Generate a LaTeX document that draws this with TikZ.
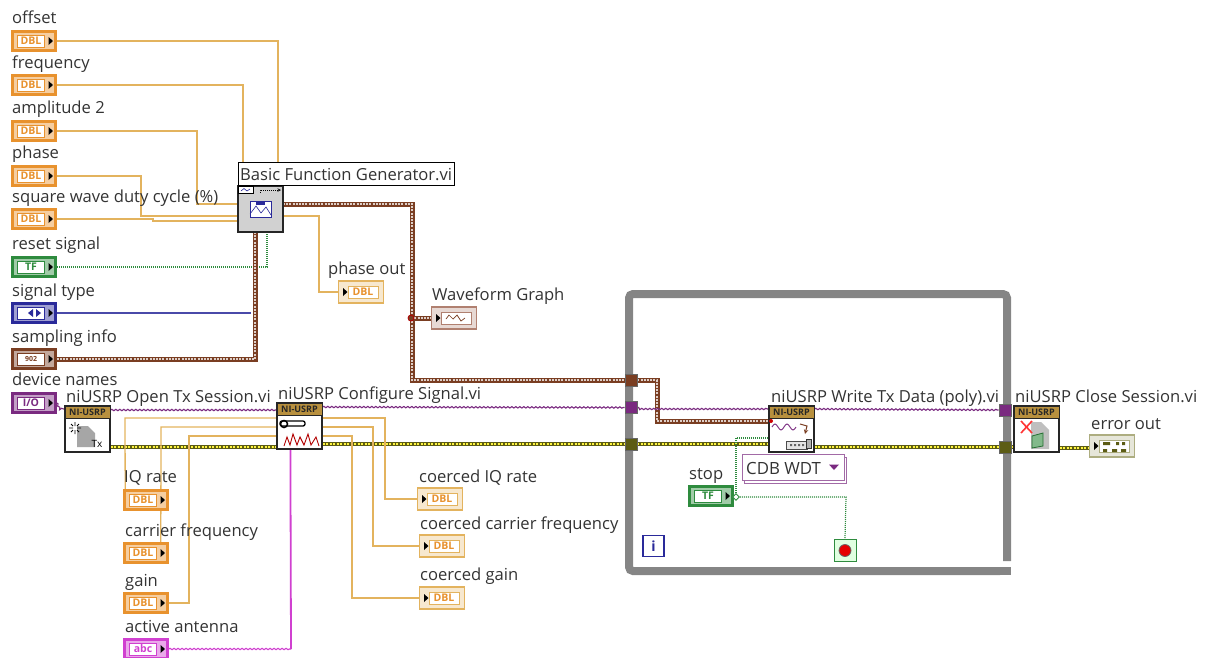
\documentclass[tikz,border=0pt]{standalone}
\usepackage{fontspec}
\setmainfont{Open Sans}
\usetikzlibrary{decorations.pathmorphing,calc,shapes.geometric}
\pgfdeclarelayer{wires}
\pgfsetlayers{wires,main}
\definecolor{dbl}{HTML}{E8922E}
\definecolor{dblw}{HTML}{E3B35E}
\definecolor{grn}{HTML}{2E8B3E}
\definecolor{blu}{HTML}{2A2A9A}
\definecolor{brn}{HTML}{7A3E22}
\definecolor{pur}{HTML}{7A2A80}
\definecolor{pnk}{HTML}{D040D0}
\definecolor{oliv}{HTML}{5C5C14}
\definecolor{gold}{HTML}{B8903E}
\definecolor{wfc}{HTML}{B08070}
\definecolor{errc}{HTML}{ADAD80}
\tikzset{
  lab/.style={anchor=base west,inner sep=0pt,text=black!80,font=\fontsize{16.6}{17}\selectfont},
  outerbox/.style={draw=#1,line width=2.6pt,fill=#1!45,minimum width=43pt,minimum height=19.5pt,inner sep=0pt},
  innerbox/.style={draw=#1,line width=.5pt,fill=white,minimum width=27pt,minimum height=12pt,inner sep=0pt},
  indbox/.style={draw=#1,line width=1.2pt,fill=#1!30,minimum width=45pt,minimum height=22pt,inner sep=0pt},
  typ/.style={text=#1,inner sep=0pt,font=\fontsize{10.5}{11}\bfseries\selectfont},
  numw/.style={draw=dblw,line width=1.3pt},
  clw/.style={preaction={draw=brn,line width=5pt},draw=brn!25,line width=2.2pt,dash pattern=on 2pt off 1.2pt},
  errw/.style={preaction={draw=oliv,line width=3.8pt},draw=yellow!75!white,line width=1.7pt,dash pattern=on 2pt off 1.5pt},
  boolw/.style={draw=grn,line width=1.2pt,dash pattern=on 1pt off 1pt},
  enumw/.style={draw=blu!85,line width=1.3pt},
  strw/.style={draw=pnk,line width=1.1pt,decorate,decoration={snake,amplitude=.7pt,segment length=4pt}},
  refw/.style={draw=pur,line width=1.1pt,decorate,decoration={snake,amplitude=.7pt,segment length=4pt}},
  pnkv/.style={draw=pnk,line width=1.8pt},
  vibox/.style={draw=black!85,line width=1.2pt,fill=white,minimum width=45pt,minimum height=46pt,inner sep=0pt},
  vihead/.style={draw=black!85,line width=.8pt,fill=gold,minimum width=45pt,minimum height=12pt,inner sep=0pt,text=black!85,font=\fontsize{9}{9}\bfseries\selectfont},
  tun/.style={draw=black!60,line width=.6pt,fill=#1,minimum size=12pt,inner sep=0pt},
  lbltag/.style={draw=black,line width=.9pt,fill=white,anchor=north west,minimum width=216pt,minimum height=23pt,inner sep=0pt}
}
\newcommand{\ctl}[5]{% name, x, y-top, colour, text
  \node[outerbox=#4] (#1) at (#2+23,#3+11) {};
  \node[innerbox=#4,typ=#4] (#1-in) at (#2+20,#3+11) {#5};
  \fill[black] (#2+37.5,#3+7) -- (#2+42,#3+11) -- (#2+37.5,#3+15) -- cycle;
}
\newcommand{\ndc}[5]{% name, x, y-top, colour, text
  \node[indbox=#4] (#1) at (#2+23,#3+11) {};
  \node[innerbox=#4,minimum width=30pt,typ=#4] (#1-in) at (#2+25,#3+11) {#5};
  \fill[black] (#2+5,#3+7) -- (#2+9.5,#3+11) -- (#2+5,#3+15) -- cycle;
}
\newcommand{\vi}[3]{% name, x, y-top
  \node[vibox] (#1) at (#2+22.5,#3+23) {};
  \node[vihead] (#1-h) at (#2+22.5,#3+6) {NI-USRP};
}
\begin{document}
\begin{tikzpicture}[x=1pt,y=-1pt]
\useasboundingbox (0,0) rectangle (1211,657);
% controls
\node[lab] (l1) at (12,23) {offset};
\ctl{offset}{11}{30}{dbl}{DBL}
\node[lab] (l2) at (12,68) {frequency};
\ctl{freq}{11}{74}{dbl}{DBL}
\node[lab] (l3) at (12,113) {amplitude 2};
\ctl{ampl}{11}{120}{dbl}{DBL}
\node[lab] (l4) at (12,158) {phase};
\ctl{phase}{11}{165}{dbl}{DBL}
\node[lab] (l5) at (12,202) {square wave duty cycle (\%)};
\ctl{square}{11}{208}{dbl}{DBL}
\node[lab] (l6) at (12,249) {reset signal};
\ctl{reset}{11}{256}{grn}{TF}
\node[lab] (l7) at (12,296) {signal type};
\ctl{stype}{11}{302}{blu}{}
\fill[blu] (33,309) -- (28,313) -- (33,317) -- cycle (36,309) -- (41,313) -- (36,317) -- cycle;
\node[lab] (l8) at (12,342) {sampling info};
\ctl{samp}{11}{348}{brn}{\fontsize{7}{8}\selectfont 902}
\node[lab] (l9) at (12,385) {device names};
\ctl{dev}{11}{392}{pur}{I/O}
\node[lab] (l10) at (124,482) {IQ rate};
\ctl{iq}{123}{489}{dbl}{DBL}
\node[lab] (l11) at (125,536) {carrier frequency};
\ctl{carr}{123}{542}{dbl}{DBL}
\node[lab] (l12) at (125,586) {gain};
\ctl{gain}{123}{592}{dbl}{DBL}
\node[lab] (l13) at (125,632) {active antenna};
\ctl{ant}{123}{638}{pnk}{abc}
\node[lab] (l14) at (689,479) {stop};
\ctl{stop}{688}{485}{grn}{TF}
% indicators
\node[lab] (l15) at (328,274) {phase out};
\ndc{pout}{338}{281}{dblw}{\textcolor{dbl}{DBL}}
\node[lab] (l16) at (432,300) {Waveform Graph};
\ndc{wf}{431}{307}{wfc}{}
\draw[brn,line width=.7pt] (446,319) -- (449,315) -- (453,319) -- (457,315) -- (461,321) -- (465,318);
\node[lab] (l17) at (419,482) {coerced IQ rate};
\ndc{oiq}{417}{488}{dblw}{\textcolor{dbl}{DBL}}
\node[lab] (l18) at (420,529) {coerced carrier frequency};
\ndc{ocarr}{419}{535}{dblw}{\textcolor{dbl}{DBL}}
\node[lab] (l19) at (420,580) {coerced gain};
\ndc{ogain}{419}{587}{dblw}{\textcolor{dbl}{DBL}}
\node[lab] (l20) at (1091,429) {error out};
\ndc{err}{1089}{435}{errc}{}
\fill[oliv] (1103,442) rectangle (1110,445) (1116,442) rectangle (1119,445) (1122,442) rectangle (1125,445) (1103,449) rectangle (1107,452) (1112,449) rectangle (1117,452) (1121,449) rectangle (1126,452);
% Basic Function Generator
\node[draw=black!85,line width=1.2pt,fill=black!18,minimum width=45pt,minimum height=46pt,inner sep=0pt] (bfg) at (260.5,209) {};
\node[lbltag] (bfgt) at (238,162) {};
\node[lab] (l21) at (240,180) {Basic Function Generator.vi};
\draw[fill=white,line width=.5pt] (238.5,186.5) rectangle (253,193.5);
\draw[blu,line width=.6pt] (241,191) -- (244,188.5) -- (247,191) -- (250,189);
\draw[black,line width=.6pt,dash pattern=on 1pt off 1pt,->,>=stealth] (260,193) -- (260,190) -- (281,190);
\draw[blu,line width=1pt,fill=white] (250,201) rectangle (271,217);
\fill[blu] (256,201) rectangle (265,205);
\draw[blu,line width=.6pt] (250,214) -- (256,206) -- (261,213) -- (266,207) -- (271,215);
% VIs
\node[lab] (l22) at (66,402) {niUSRP Open Tx Session.vi};
\vi{open}{65}{406}
\node[lab] (l23) at (278,399) {niUSRP Configure Signal.vi};
\vi{conf}{277}{403}
\node[lab] (l24) at (771,402) {niUSRP Write Tx Data (poly).vi};
\vi{write}{769}{406}
\node[lab] (l25) at (1015,402) {niUSRP Close Session.vi};
\vi{close}{1014}{406}
% Open icon
\fill[black!35] (77,426) -- (88,426) -- (95,433) -- (95,447) -- (77,447) -- cycle;
\draw[black,line width=.9pt] (75,422) -- (75,426) (75,430) -- (75,434) (69,428) -- (73,428) (77,428) -- (81,428) (71,424) -- (73,426) (79,424) -- (77,426) (71,432) -- (73,430) (79,432) -- (77,430);
\node[inner sep=0pt,font=\fontsize{10}{10}\selectfont] (txt) at (97,444) {Tx};
% Config icon
\draw[black,line width=1.3pt,fill=white,rounded corners=2pt] (280,421) rectangle (305,426);
\draw[black,line width=1.5pt] (284,424) circle (3.5pt);
\draw[red!70!black,line width=.9pt] (284,446) -- (287,437) -- (290,445) -- (293,434) -- (297,445) -- (300,437) -- (304,445) -- (308,434) -- (311,445) -- (316,437) -- (319,446);
% Write icon
\draw[pur,line width=.9pt] (772,427) sin (775,424) cos (778,427) sin (781,430) cos (784,427) sin (787,424) cos (790,427) sin (793,430) cos (796,427);
\draw[brn,line width=1pt,->,>=stealth] (800,424) -- (807,426) -- (805,434);
\draw[black!70,fill=black!10,line width=.7pt] (786,441) rectangle (807,449);
\draw[black!80,fill=black!30,line width=.7pt] (806,439) rectangle (811,448);
\fill[black!60] (790,444) rectangle (792,446) (794,444) rectangle (796,446) (798,444) rectangle (800,446) (802,444) rectangle (804,446);
% Close icon
\fill[black!25] (1031,422) -- (1041,422) -- (1049,430) -- (1049,449) -- (1031,449) -- cycle;
\draw[grn!80!black,line width=.8pt,fill=grn!60] (1032,436) -- (1043,433) -- (1043,446) -- (1032,448) -- cycle;
\draw[red!80,line width=1.6pt] (1021,421) -- (1032,433) (1032,421) -- (1021,433);
% loop terminals
\node[draw=blu,line width=1.4pt,fill=white,minimum width=21pt,minimum height=21pt,inner sep=0pt,text=blu,font=\fontsize{14}{14}\bfseries\selectfont] (iterm) at (653.5,546) {i};
\node[draw=grn,line width=.8pt,fill=green!12,minimum width=22pt,minimum height=22pt,inner sep=0pt] (stopb) at (845,550.5) {};
\node[circle,fill=red!90!black,draw=black!60,line width=.8pt,minimum size=12pt,inner sep=0pt] (stopc) at (845,550.5) {};
% CDB WDT
\node[draw=pur!70,line width=1pt,fill=white,minimum width=102pt,minimum height=26pt,inner sep=0pt] (cdbs) at (795,470) {};
\node[draw=pur!70,line width=1pt,fill=white,minimum width=102pt,minimum height=26pt,inner sep=0pt] (cdb) at (793,467) {};
\node[lab,font=\fontsize{16.8}{17}\selectfont] (cdbt) at (746,474) {CDB WDT};
\fill[pur] (829,464.5) -- (839,464.5) -- (834,470) -- cycle;
% tunnels
\node[tun=brn] (t1) at (631,380) {};
\node[tun=pur] (t2) at (631,407.5) {};
\node[tun=oliv] (t3) at (631,444) {};
\node[tun=pur] (t4) at (1005,410) {};
\node[tun=oliv] (t5) at (1005,447) {};
\node[diamond,draw=grn,line width=.9pt,fill=white,minimum size=7pt,inner sep=0pt] (sdia) at (736,497) {};
\node[circle,fill=brn,draw=red!70!black,line width=.8pt,minimum size=6pt,inner sep=0pt] (wj) at (411,318) {};
\fill[red!80!black] (771,421) circle (2pt);
\begin{pgfonlayer}{wires}
% loop frame
\draw[black!48,line width=8pt,rounded corners=4pt] (1007,561) -- (1007,294) -- (629,294) -- (629,571) -- (1000,571);
\fill[black!48] (1000,567) rectangle (1011,575);
\coordinate (b1) at (278,186);
\coordinate (b2) at (243,186);
\coordinate (b3) at (238,204);
\coordinate (b4) at (238,216);
\coordinate (b5) at (238,221);
\coordinate (b6) at (267,232);
\coordinate (b7) at (251,313);
\coordinate (b8) at (255,232);
\coordinate (bo1) at (283,204);
\coordinate (bo2) at (283,216);
\path[numw] (offset.east) -| (b1);
\path[numw] (freq.east) -| (b2);
\path[numw] (ampl.east) -- (197,131) -- (197,204) -- (b3);
\path[numw] (phase.east) -- (141,176) -- (141,216) -- (b4);
\path[numw] (square.east) -- (153,219) -- (153,221) -- (b5);
\path[boolw] (reset.east) -| (b6);
\path[enumw] (stype.east) -- (b7);
\path[clw] (samp.east) -| (b8);
\path[clw] (bo1) -- (412,204) -- (412,380) -- (t1.west);
\path[clw] (wj.east) -- (wf.west);
\path[clw] (t1.east) -- (657,380) -- (657,421) -- (write.west |- 0,421);
\path[numw] (bo2) -- (319,216) -- (319,292) -- (pout.west);
% session wires
\path[refw] (dev.east) -- (60,409) -- (open.west |- 0,409);
\path[refw] (open.east |- 0,410) -- (conf.west |- 0,410);
\path[refw] (conf.east |- 0,407) -- (t2.west);
\path[refw] (t2.east) -- (640,409) -- (write.west |- 0,409);
\path[refw] (write.east |- 0,409) -- (t4.west);
\path[errw] (open.east |- 0,447) -- (conf.west |- 0,447);
\path[errw] (conf.east |- 0,444) -- (t3.west);
\path[errw] (t3.east) -- (write.west |- 0,444);
\path[errw] (write.east |- 0,447) -- (t5.west);
\path[errw] (t5.east) -- (close.west |- 0,447);
\path[errw] (close.east |- 0,448) -- (err.west |- 0,448);
% inputs to configure
\path[numw] (iq.north west) ++(2,0) -- (125,418) -- (conf.west |- 0,418);
\path[numw] (carr.north east) ++(-8,0) -- (161,427) -- (conf.west |- 0,427);
\path[numw] (gain.east) -- (189,603) -- (189,436) -- (conf.west |- 0,436);
\path[pnkv] (conf.south west) ++(14,0) -- (291,649);
\path[strw] (ant.east) -- (291,649);
% outputs of configure
\path[numw] (conf.east |- 0,418) -- (385,418) -- (385,499) -- (oiq.west);
\path[numw] (conf.east |- 0,427) -- (373,427) -- (373,546) -- (ocarr.west);
\path[numw] (conf.east |- 0,436) -- (352,436) -- (352,598) -- (ogain.west);
% stop
\path[boolw] (stop.east) -- (sdia.west);
\path[boolw] (sdia.north) -- (736,438) -- (write.west |- 0,438);
\path[boolw] (sdia.east) -- (846,497) -- (stopb.north);
\end{pgfonlayer}
\end{tikzpicture}
\end{document}
